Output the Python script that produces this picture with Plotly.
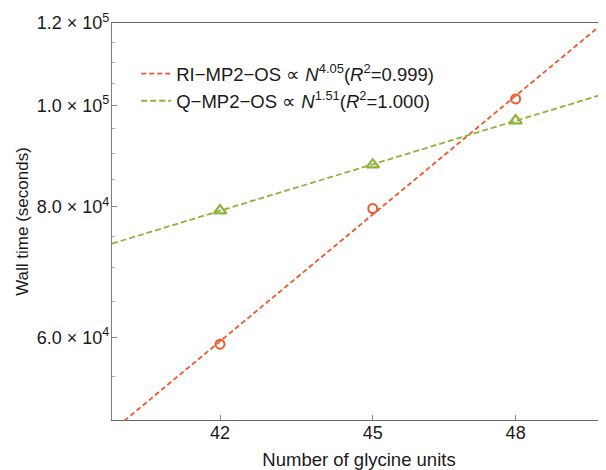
import numpy as np
import plotly.graph_objects as go

# ---- data ----
glycine_units = [42, 45, 48]
ri_mp2_os = [59100, 79700, 101500]
q_mp2_os = [79350, 87800, 96760]
x_limits = [40, 50]
y_limits = [50000, 120000]
y_tick_vals = [60000, 80000, 100000, 120000]
y_tick_text = ["6.0 × 10<sup>4</sup>", "8.0 × 10<sup>4</sup>",
               "1.0 × 10<sup>5</sup>", "1.2 × 10<sup>5</sup>"]
y_minor_vals = [50000 + 5000 * i for i in range(15)]
x_tick_vals = [42, 45, 48]

ORANGE = "#F0562A"
GREEN = "#8DB33A"
FONT = "Liberation Sans, Arial, sans-serif"


def power_fit(x, y, xs):
    b, a = np.polyfit(np.log(x), np.log(y), 1)
    return np.exp(a + b * np.log(np.array(xs, dtype=float)))


fig = go.Figure()

fig.add_trace(go.Scatter(
    x=x_limits, y=power_fit(glycine_units, ri_mp2_os, x_limits),
    mode="lines", line=dict(color=ORANGE, width=1.8, dash="5px,3px"),
    name="RI\u2212MP2\u2212OS \u221d <i>N</i><sup>4.05</sup>(<i>R</i><sup>2</sup>=0.999)",
))
fig.add_trace(go.Scatter(
    x=x_limits, y=power_fit(glycine_units, q_mp2_os, x_limits),
    mode="lines", line=dict(color=GREEN, width=1.8, dash="6px,3px"),
    name="Q\u2212MP2\u2212OS \u221d <i>N</i><sup>1.51</sup>(<i>R</i><sup>2</sup>=1.000)",
))
fig.add_trace(go.Scatter(
    x=glycine_units, y=ri_mp2_os, mode="markers", showlegend=False,
    marker=dict(symbol="circle-open", size=9, color=ORANGE, line=dict(width=2, color=ORANGE)),
))
fig.add_trace(go.Scatter(
    x=glycine_units, y=q_mp2_os, mode="markers", showlegend=False,
    marker=dict(symbol="triangle-up-open", size=11, color=GREEN, line=dict(width=2.2, color=GREEN)),
))

fig.update_layout(
    width=606, height=462,
    margin=dict(l=104, r=8, t=15, b=50),
    paper_bgcolor="white", plot_bgcolor="white",
    font=dict(family=FONT, size=18, color="#1a1a1a"),
    legend=dict(x=0.049, y=0.919, xanchor="left", yanchor="top",
                bgcolor="rgba(0,0,0,0)", font=dict(size=18.5), tracegroupgap=0),
)

fig.update_xaxes(
    type="log", range=[np.log10(x_limits[0]), np.log10(x_limits[1])],
    tickvals=x_tick_vals, ticktext=[str(v) for v in x_tick_vals],
    ticks="inside", ticklen=5, tickcolor="#888", tickwidth=1,
    tickfont=dict(size=18), ticklabelstandoff=-4,
    showline=True, linecolor="#666", linewidth=1.2, mirror=True,
    showgrid=False, zeroline=False, automargin=False,
    title=dict(text="Number of glycine units", font=dict(size=18.5), standoff=12),
)
fig.update_yaxes(
    type="log", range=[np.log10(y_limits[0]), np.log10(y_limits[1])],
    tickvals=y_tick_vals, ticktext=y_tick_text,
    ticks="inside", ticklen=5, tickcolor="#888", tickwidth=1,
    tickfont=dict(size=18), ticklabelstandoff=-2,
    minor=dict(tickvals=y_minor_vals, ticks="inside", ticklen=3, tickcolor="#aaa"),
    showline=True, linecolor="#808080", linewidth=1.2,
    showgrid=False, zeroline=False, automargin=False,
    title=dict(text="Wall time (seconds)", font=dict(size=17), standoff=3),
)

fig.write_html("out.html")
